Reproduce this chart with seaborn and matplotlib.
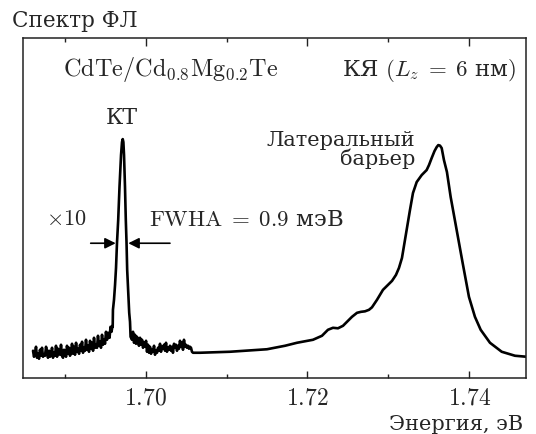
import numpy as np
import pandas as pd
import matplotlib
matplotlib.use("Agg")
import matplotlib.pyplot as plt
import seaborn as sns

sns.set_theme(style="ticks")
plt.rcParams['font.family'] = ['DejaVu Serif']
plt.rcParams['mathtext.fontset'] = 'cm'

# QD part of the spectrum (shown x10), energies in eV, intensity in arb. units
# noisy background left of the QD line
qd_left_energy = [1.68607, 1.68619, 1.68632, 1.68644, 1.68656, 1.68669, 1.68681, 1.68693,
                  1.68706, 1.68718, 1.68731, 1.68743, 1.68755, 1.68768, 1.68780, 1.68792,
                  1.68805, 1.68817, 1.68829, 1.68842, 1.68854, 1.68867, 1.68879, 1.68891,
                  1.68904, 1.68916, 1.68928, 1.68941, 1.68953, 1.68965, 1.68978, 1.68990,
                  1.69003, 1.69015, 1.69027, 1.69040, 1.69052, 1.69064, 1.69077, 1.69089,
                  1.69101, 1.69114, 1.69126, 1.69139, 1.69151, 1.69163, 1.69176, 1.69188,
                  1.69200, 1.69213, 1.69225, 1.69237, 1.69250, 1.69262, 1.69274, 1.69287,
                  1.69299, 1.69312, 1.69324, 1.69336, 1.69349, 1.69361, 1.69373, 1.69386,
                  1.69398, 1.69410, 1.69423, 1.69435, 1.69447, 1.69460, 1.69472, 1.69484,
                  1.69497, 1.69509, 1.69522]
qd_left_signal = [27, 21, 25, 31, 20, 24, 19, 28, 22, 30, 21, 23, 22, 31, 26, 20,
                  27, 21, 23, 30, 20, 25, 22, 32, 21, 29, 24, 23, 33, 22, 20, 28,
                  27, 21, 32, 24, 30, 22, 25, 34, 24, 31, 23, 35, 26, 29, 24, 33,
                  27, 36, 25, 30, 27, 38, 28, 32, 26, 37, 29, 35, 27, 40, 30, 33,
                  30, 42, 32, 36, 30, 43, 33, 38, 34, 46, 38]

# the QD line itself
qd_peak_energy = [1.69534, 1.69553, 1.69565, 1.69577, 1.69590,
                  1.69592, 1.69595, 1.69608, 1.69621, 1.69633, 1.69645, 1.69660, 1.69676,
                  1.69695, 1.69707, 1.69716, 1.69724, 1.69732, 1.69744, 1.69754, 1.69763,
                  1.69771, 1.69784, 1.69796, 1.69806, 1.69813]
qd_peak_signal = [45, 40, 51, 46, 52,
                  51, 68, 78, 93, 110, 135, 158, 191,
                  223, 236, 239, 236, 223, 191, 158, 135,
                  108, 85, 65, 56, 41]

# noisy background right of the QD line
qd_right_energy = [1.69831, 1.69843, 1.69856, 1.69868, 1.69880, 1.69893, 1.69905, 1.69917,
                   1.69930, 1.69942, 1.69955, 1.69967, 1.69979, 1.69992, 1.70004, 1.70016,
                   1.70029, 1.70041, 1.70053, 1.70066, 1.70078, 1.70090, 1.70103, 1.70115,
                   1.70127, 1.70140, 1.70152, 1.70164, 1.70177, 1.70189, 1.70202, 1.70214,
                   1.70226, 1.70239, 1.70251, 1.70263, 1.70276, 1.70288, 1.70300, 1.70313,
                   1.70325, 1.70337, 1.70350, 1.70362, 1.70374, 1.70387, 1.70399, 1.70411,
                   1.70424, 1.70436, 1.70449, 1.70461, 1.70473, 1.70486, 1.70498, 1.70510,
                   1.70523, 1.70535, 1.70547, 1.70560, 1.70572]
qd_right_signal = [38, 46, 35, 43, 34, 41, 36, 32, 40, 33, 38, 30, 35, 31, 37, 26,
                   33, 25, 31, 24, 28, 26, 32, 23, 27, 25, 30, 27, 34, 26, 31, 29,
                   33, 27, 35, 26, 30, 28, 32, 27, 31, 25, 34, 30, 33, 27, 32, 29,
                   37, 31, 35, 28, 38, 31, 33, 30, 32, 29, 31, 30, 26]

# QW / lateral barrier part of the spectrum
qw_energy = [1.70585, 1.70671, 1.71042, 1.71499, 1.71722, 1.71870, 1.72068, 1.72179,
             1.72253, 1.72315, 1.72377, 1.72439, 1.72488, 1.72550, 1.72612, 1.72661,
             1.72711, 1.72760, 1.72797, 1.72859, 1.72933, 1.72995, 1.73045, 1.73094,
             1.73131, 1.73168, 1.73205, 1.73242, 1.73267, 1.73304, 1.73350, 1.73412,
             1.73473, 1.73502, 1.73535, 1.73570, 1.73597, 1.73617, 1.73638, 1.73659,
             1.73687, 1.73724, 1.73770, 1.73844, 1.73918, 1.73996, 1.74070, 1.74141,
             1.74256, 1.74401, 1.74565, 1.74707]
qw_signal = [25, 25, 26, 28.5, 32, 35, 38, 42,
             48, 50, 49.5, 52, 56, 61, 65, 66,
             66.5, 68, 70.5, 78, 88, 93, 97, 103,
             110, 120, 138, 156, 168, 185, 196, 203,
             208, 213, 220, 227, 231, 233, 232.5, 230,
             218, 206, 181, 148, 115, 81, 61, 48,
             35, 26, 22, 21]

tick_values = [1.70, 1.72, 1.74]
tick_labels = ['$1.70$', '$1.72$', '$1.74$']
minor_values = [1.69, 1.71, 1.73]

df = pd.DataFrame({
    'energy': qd_left_energy + qd_peak_energy + qd_right_energy + qw_energy,
    'signal': qd_left_signal + qd_peak_signal + qd_right_signal + qw_signal,
})

fig = plt.figure(figsize=(5.36, 4.34), dpi=100)
ax = fig.add_axes([0.0435, 0.1297, 0.9378, 0.7821])

sns.lineplot(data=df, x='energy', y='signal', color='black', lw=1.9,
             sort=False, estimator=None, ax=ax)

ax.set_xlim(1.68487, 1.74701)
ax.set_ylim(0, 340)
ax.set_xlabel('')
ax.set_ylabel('')
ax.set_yticks([])
ax.set_xticks(tick_values)
ax.set_xticklabels(tick_labels, fontsize=17)
ax.set_xticks(minor_values, minor=True)
ax.tick_params(axis='x', which='both', direction='in', top=True, bottom=True,
               color='#222222', pad=6)
ax.tick_params(axis='x', which='major', length=5.4, width=1)
ax.tick_params(axis='x', which='minor', length=3.2, width=1)
for s in ax.spines.values():
    s.set_color('#222222')
    s.set_linewidth(1.1)

# annotations
fig.text(0.0224, 0.937, 'Спектр ФЛ', fontsize=15.5, va='baseline', ha='left')
ax.text(0.079, 0.888, r'$\mathrm{CdTe/Cd_{0.8}Mg_{0.2}Te}$', fontsize=17.5,
        transform=ax.transAxes, va='baseline', ha='left')
ax.text(0.9815, 0.888, r'КЯ $(L_z\;=\;6$ нм$)$', fontsize=16.5,
        transform=ax.transAxes, va='baseline', ha='right')
ax.text(1.6971, 254, 'КТ', fontsize=16, ha='center', va='baseline')
ax.text(1.69015, 153, r'$\times10$', fontsize=16, ha='center', va='baseline')
ax.text(1.70044, 152, r'$\mathrm{FWHA}\;=\;0.9$ мэВ', fontsize=16.5, ha='left', va='baseline')
ax.text(1.73329, 232, 'Латеральный', fontsize=15, ha='right', va='baseline')
ax.text(1.73329, 213, 'барьер', fontsize=15, ha='right', va='baseline')
ax.text(0.994, -0.154, 'Энергия, эВ', fontsize=15, transform=ax.transAxes,
        ha='right', va='baseline')

arrow = dict(arrowstyle='-|>', color='black', lw=1.2, mutation_scale=16,
             shrinkA=0, shrinkB=0)
ax.annotate('', xy=(1.69629, 134.7), xytext=(1.69320, 134.7), arrowprops=arrow)
ax.annotate('', xy=(1.69785, 134.7), xytext=(1.70300, 134.7), arrowprops=arrow)

fig.savefig('out.png', dpi=100)
